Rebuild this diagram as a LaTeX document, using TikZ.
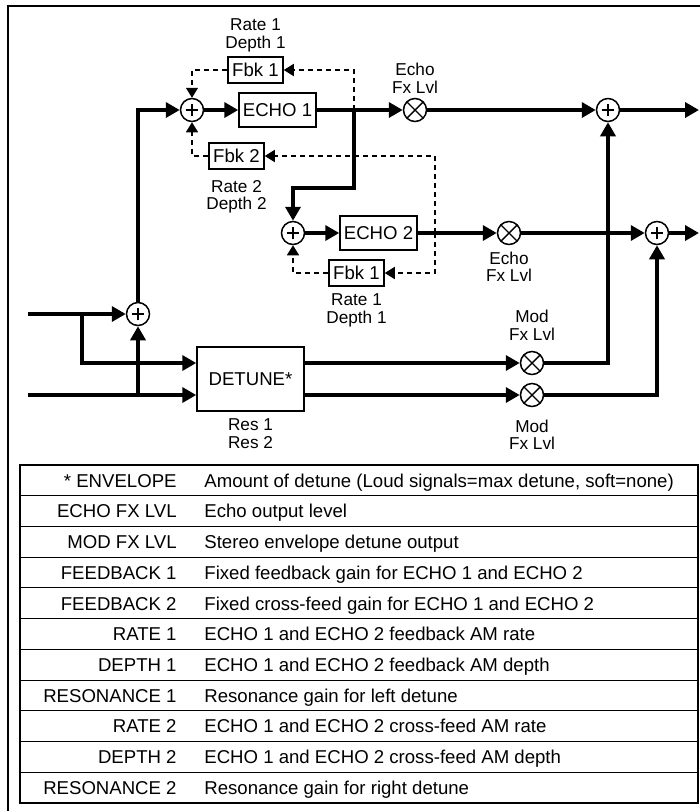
\documentclass[tikz,border=0pt]{standalone}
\usepackage{fontspec}
\setmainfont{Liberation Sans}
\usetikzlibrary{arrows.meta,positioning}

\begin{document}
\begin{tikzpicture}[x=0.5pt,y=-0.5pt, >={Triangle[length=7pt,width=7.5pt]},
 sig/.style={line width=1.8pt},
 fb/.style={line width=0.75pt,dash pattern=on 2.5pt off 2pt,>={Triangle[length=5pt,width=6pt]}},
 blk/.style={draw,line width=0.75pt,inner sep=1pt,font=\fontsize{9.3}{11}\selectfont},
 echo/.style={blk,minimum width=38.5pt,minimum height=17pt},
 fbk/.style={blk,minimum width=27.5pt,minimum height=13pt},
 lbl/.style={align=center,inner sep=0pt,font=\fontsize{8.6}{8.9}\selectfont},
 sumnode/.style={circle,draw,line width=0.75pt,minimum size=11.5pt,inner sep=0pt,path picture={\draw[line width=0.7pt] ([xshift=-3.2pt]path picture bounding box.center)--([xshift=3.2pt]path picture bounding box.center) ([yshift=-3.2pt]path picture bounding box.center)--([yshift=3.2pt]path picture bounding box.center);}},
 mulnode/.style={circle,draw,line width=0.75pt,minimum size=11.5pt,inner sep=0pt,path picture={\draw[line width=0.7pt] ([shift={(-4pt,-4pt)}]path picture bounding box.center)--([shift={(4pt,4pt)}]path picture bounding box.center) ([shift={(-4pt,4pt)}]path picture bounding box.center)--([shift={(4pt,-4pt)}]path picture bounding box.center);}},
 keytxt/.style={anchor=base east,inner sep=0pt,font=\fontsize{9.3}{11}\selectfont},
 desctxt/.style={anchor=base west,inner sep=0pt,font=\fontsize{9.3}{11}\selectfont}]
\useasboundingbox (0,0) rectangle (700,811);
\draw[line width=1pt] (8,811)--(8,6)--(700,6);
\coordinate (inL) at (28,314); \coordinate (inR) at (28,395);
\coordinate (brA) at (82,314); \coordinate (brB) at (138,395);
\node[sumnode] (sumIn) at (138,314) {};
\node[blk,minimum width=53.5pt,minimum height=32pt] (det) at (250.5,379) {DETUNE*};
\node[lbl,below=3.5pt of det] (res) {Res 1\\Res 2};
\node[sumnode] (sumA) at (192,110) {};
\node[echo] (echoA) at (277.5,110) {ECHO 1};
\node[fbk] (fbkA) at (255.5,70) {Fbk 1};
\node[lbl,above=2pt of fbkA] (rdA) {Rate 1\\Depth 1};
\node[fbk] (fbkB) at (236.5,156) {Fbk 2};
\node[lbl,below=5pt of fbkB] (rdB) {Rate 2\\Depth 2};
\node[mulnode] (mulA) at (415,110) {};
\node[lbl,above=2pt of mulA] (lvlA) {Echo\\Fx Lvl};
\node[sumnode] (sumOutA) at (608,110) {};
\coordinate (outA) at (699,110);
\node[sumnode] (sumB) at (293,233) {};
\node[echo] (echoB) at (378.5,233) {ECHO 2};
\node[fbk] (fbkC) at (356.5,273) {Fbk 1};
\node[lbl,below=3.5pt of fbkC] (rdC) {Rate 1\\Depth 1};
\node[mulnode] (mulB) at (509,233) {};
\node[lbl,below=3pt of mulB] (lvlB) {Echo\\Fx Lvl};
\node[sumnode] (sumOutB) at (657,233) {};
\coordinate (outB) at (699,233);
\node[mulnode] (modA) at (532,363) {};
\node[lbl,above=5pt of modA] (modlA) {Mod\\Fx Lvl};
\node[mulnode] (modB) at (532,395) {};
\node[lbl,below=6pt of modB] (modlB) {Mod\\Fx Lvl};
\coordinate (tapA) at (354,110); \coordinate (tapB) at (435,233);
\draw[sig,->] (inL)--(sumIn); \draw[sig,->] (brA)|-([yshift=8pt]det.west); \draw[sig,->] (inR)--([yshift=-8pt]det.west); \draw[sig,->] (brB)--(sumIn);
\draw[sig,->] (sumIn)|-(sumA); \draw[sig,->] (sumA)--(echoA); \draw[sig,->] (echoA)--(mulA); \draw[sig,->] (mulA)--(sumOutA); \draw[sig,->] (sumOutA)--(outA);
\draw[sig,->] (tapA)--(354,188)-|(sumB); \draw[sig,->] (sumB)--(echoB); \draw[sig,->] (echoB)--(mulB); \draw[sig,->] (mulB)--(sumOutB); \draw[sig,->] (sumOutB)--(outB);
\draw[sig,->] ([yshift=8pt]det.east)--(modA); \draw[sig,->] ([yshift=-8pt]det.east)--(modB);
\draw[sig,->] (modA)-|(sumOutA); \draw[sig,->] (modB)-|(sumOutB);
\draw[fb,->] (tapA)|-(fbkA); \draw[fb,->] (fbkA)-|(sumA);
\draw[fb,->] (tapB)|-(fbkB); \draw[fb,->] (fbkB)-|(sumA);
\draw[fb,->] (tapB)|-(fbkC); \draw[fb,->] (fbkC)-|(sumB);
\draw[line width=1pt] (20,465) rectangle (698,803);
\foreach \i in {1,...,10} \draw[line width=0.5pt] (20,{465+30.73*\i})--(698,{465+30.73*\i});
\foreach \k/\d [count=\i from 0] in {{* ENVELOPE}/{Amount of detune (Loud signals=max detune, soft=none)},{ECHO FX LVL}/{Echo output level},{MOD FX LVL}/{Stereo envelope detune output},{FEEDBACK 1}/{Fixed feedback gain for ECHO 1 and ECHO 2},{FEEDBACK 2}/{Fixed cross-feed gain for ECHO 1 and ECHO 2},{RATE 1}/{ECHO 1 and ECHO 2 feedback AM rate},{DEPTH 1}/{ECHO 1 and ECHO 2 feedback AM depth},{RESONANCE 1}/{Resonance gain for left detune},{RATE 2}/{ECHO 1 and ECHO 2 cross-feed AM rate},{DEPTH 2}/{ECHO 1 and ECHO 2 cross-feed AM depth},{RESONANCE 2}/{Resonance gain for right detune}}
{\node[keytxt] (key\i) at (177,{487.1+30.73*\i}) {\k}; \node[desctxt] (desc\i) at (204,{487.1+30.73*\i}) {\d};}
\end{tikzpicture}
\end{document}
